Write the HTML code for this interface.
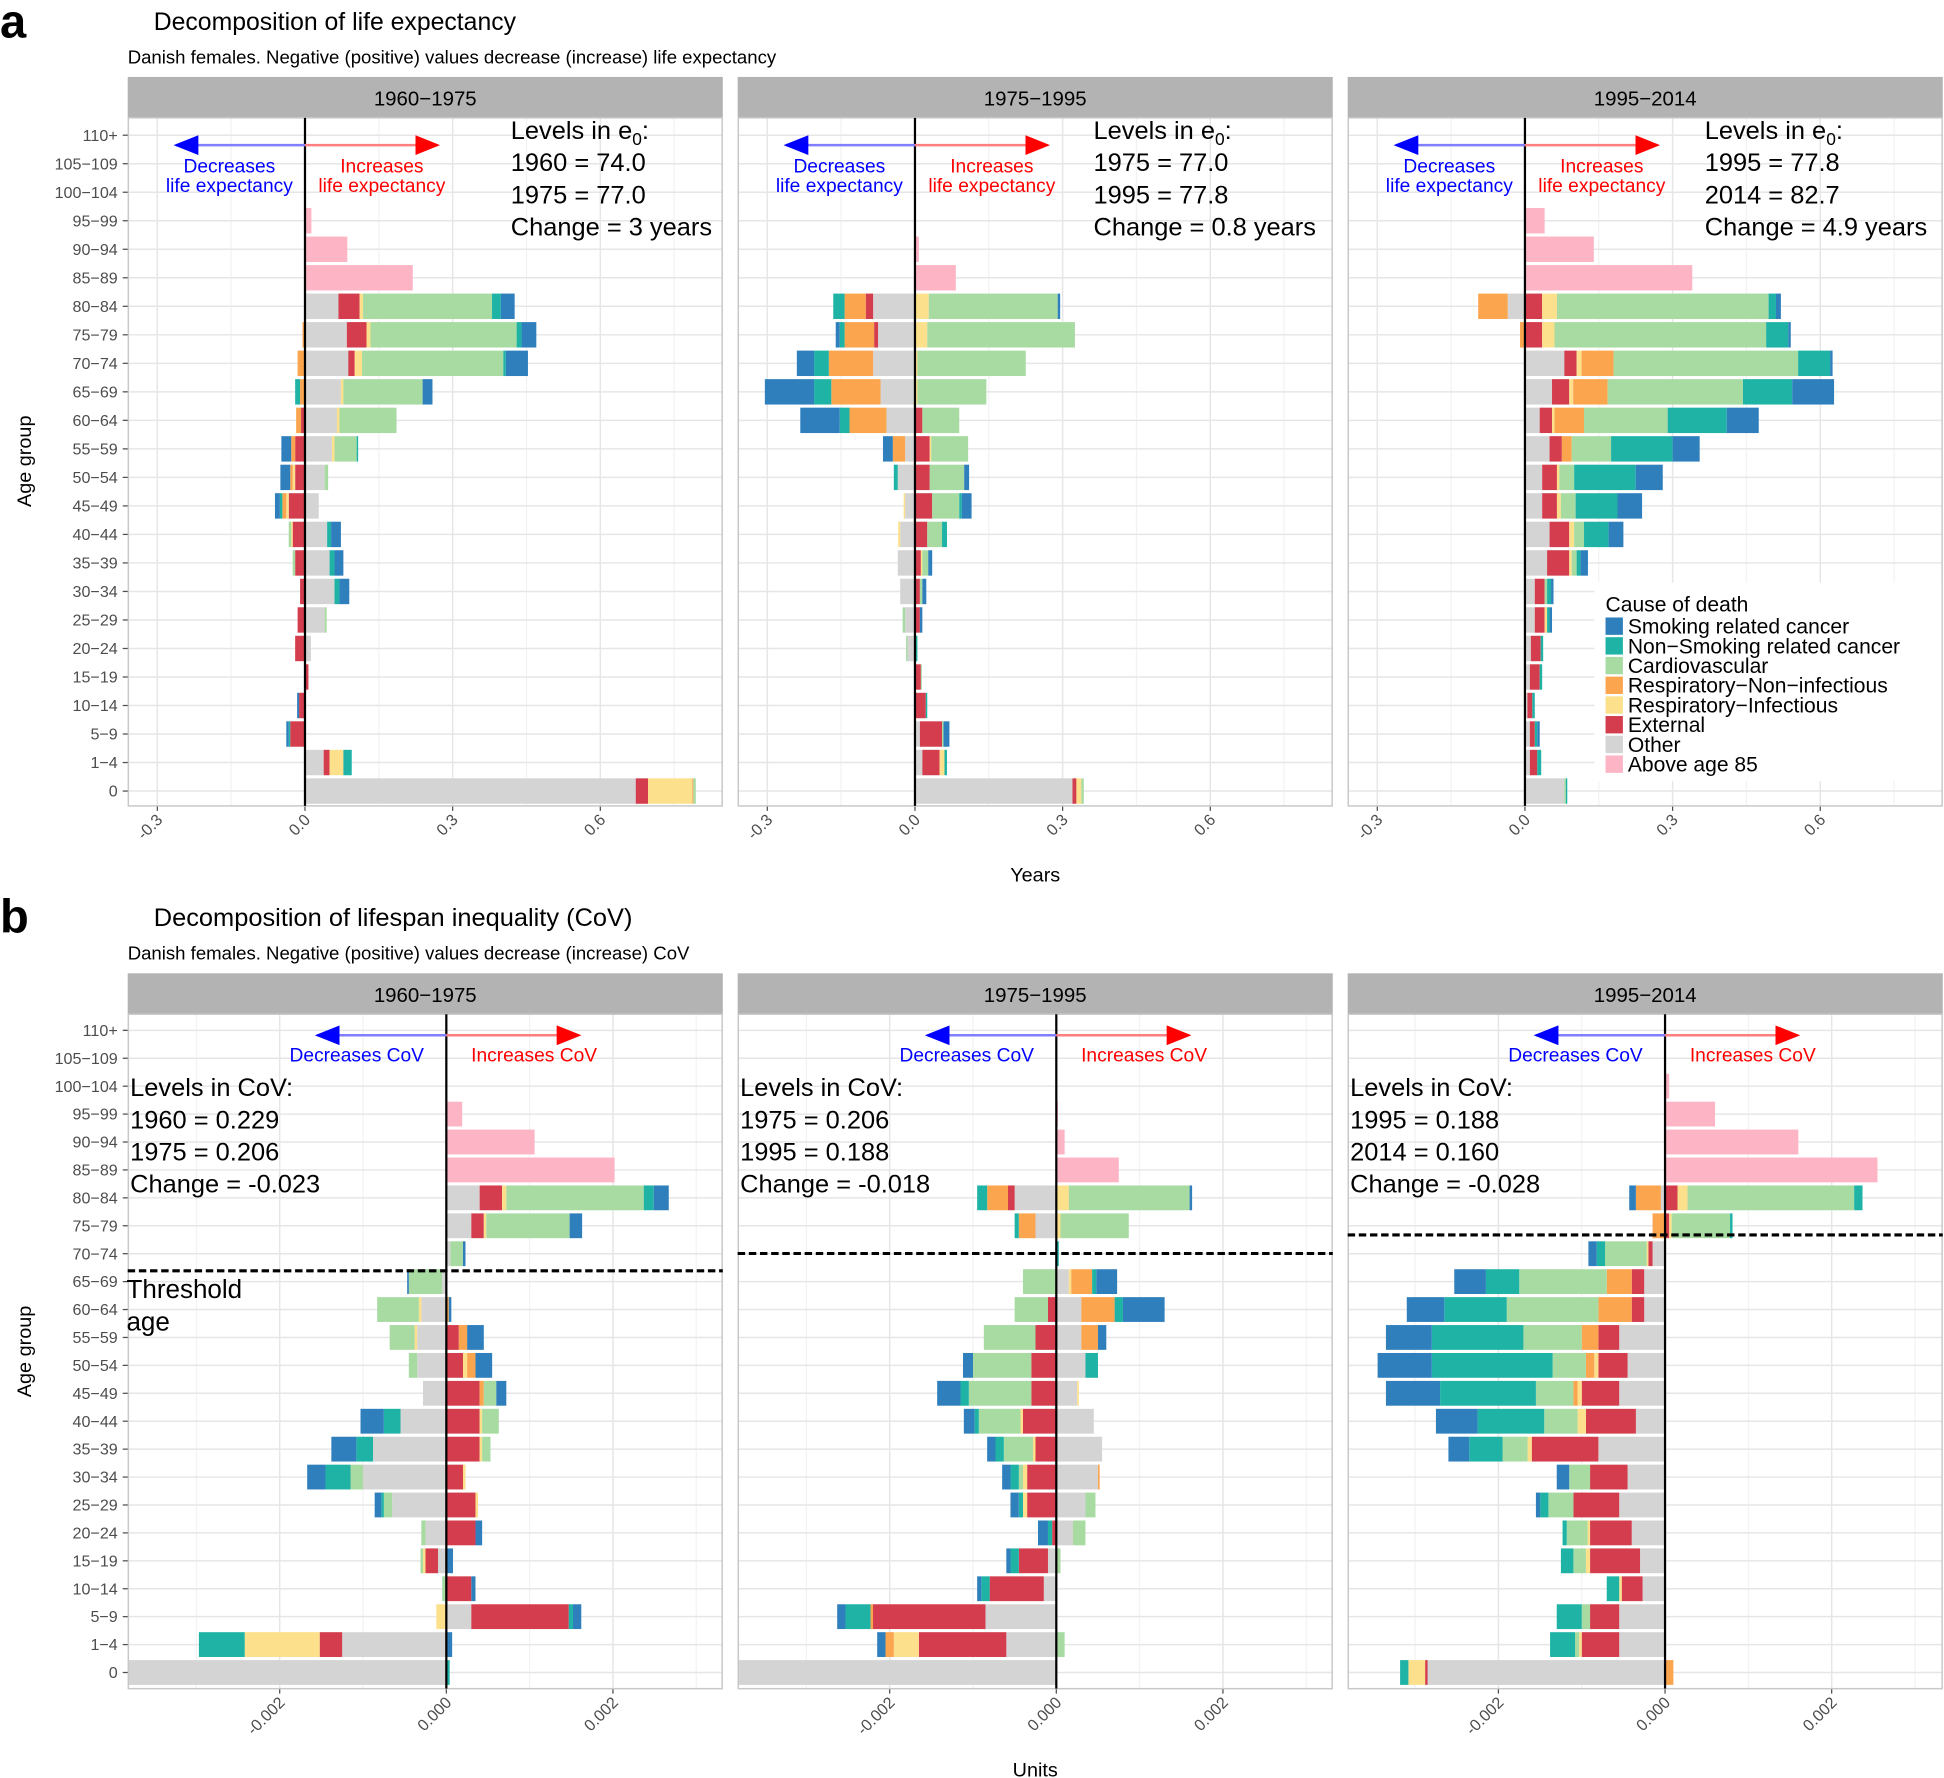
<!DOCTYPE html>
<html><head><meta charset="utf-8"><style>
html,body{margin:0;padding:0;background:#fff;}
svg{display:block;font-family:"Liberation Sans","DejaVu Sans",sans-serif;}
</style></head><body>
<svg id="fig" xmlns="http://www.w3.org/2000/svg" width="1944" height="1778" viewBox="0 0 1568 1434">
<defs>
<marker id="arB" markerWidth="10" markerHeight="8" refX="9" refY="4" orient="auto"><path d="M0,0 L10,4 L0,8 Z" fill="#0000ff"/></marker>
<marker id="arR" markerWidth="10" markerHeight="8" refX="9" refY="4" orient="auto"><path d="M0,0 L10,4 L0,8 Z" fill="#ff0000"/></marker>
</defs>
<text x="0" y="30" font-size="38" font-weight="bold">a</text>
<text x="124" y="24" font-size="20">Decomposition of life expectancy</text>
<text x="103" y="51" font-size="15">Danish females. Negative (positive) values decrease (increase) life expectancy</text>
<text x="0" y="752" font-size="38" font-weight="bold">b</text>
<text x="124" y="747" font-size="20.5">Decomposition of lifespan inequality (CoV)</text>
<text x="103" y="774" font-size="15">Danish females. Negative (positive) values decrease (increase) CoV</text>
<text x="835" y="711" font-size="16" text-anchor="middle">Years</text>
<text x="835" y="1433" font-size="16" text-anchor="middle">Units</text>
<text transform="translate(25,372) rotate(-90)" font-size="16" text-anchor="middle">Age group</text>
<text transform="translate(25,1090) rotate(-90)" font-size="16" text-anchor="middle">Age group</text>
<g id="panels"></g>
<g id="legend"></g>
</svg>
<script>
const ages=["110+","105\u2212109","100\u2212104","95\u221299","90\u221294","85\u221289","80\u221284","75\u221279","70\u221274","65\u221269","60\u221264","55\u221259","50\u221254","45\u221249","40\u221244","35\u221239","30\u221234","25\u221229","20\u221224","15\u221219","10\u221214","5\u22129","1\u22124","0"];
const causeNames=["Smoking related cancer","Non\u2212Smoking related cancer","Cardiovascular","Respiratory\u2212Non\u2212infectious","Respiratory\u2212Infectious","External","Other","Above age 85"];
const periods=["1960\u22121975","1975\u22121995","1995\u22122014"];
const ticksA=[-0.3,0,0.3,0.6];
const tickLabelsA=["-0.3","0.0","0.3","0.6"];
const ticksB=[-2,0,2]; // thousandths
const tickLabelsB=["-0.002","0.000","0.002"];
const levelsA=[["1960 = 74.0","1975 = 77.0","Change = 3 years"],["1975 = 77.0","1995 = 77.8","Change = 0.8 years"],["1995 = 77.8","2014 = 82.7","Change = 4.9 years"]];
const levelsB=[["1960 = 0.229","1975 = 0.206","Change = -0.023"],["1975 = 0.206","1995 = 0.188","Change = -0.018"],["1995 = 0.188","2014 = 0.160","Change = -0.028"]];
const thresholdY=[1025,1011,996];

const a1_smok=[0,0,0,0,0,0,.028,.03,.045,.02,0,-.02,-.02,-.01,.02,.018,.02,0,0,0,-.004,-.005,0,0];
const a1_nons=[0,0,0,0,0,0,.018,.01,.005,-.01,0,.003,0,-.005,.008,.01,.01,0,0,0,0,-.003,.017,0];
const a1_card=[0,0,0,0,0,0,.262,.297,.287,.161,.116,.045,.007,0,-.005,-.005,0,.004,0,0,0,0,0,.005];
const a1_resN=[0,0,0,0,0,0,0,-.005,-.015,-.01,-.01,-.008,-.005,-.008,0,0,0,0,0,0,0,0,0,.002];
const a1_resI=[0,0,0,0,0,0,.007,.008,.015,.005,.005,.005,-.005,-.005,-.003,0,0,0,0,0,0,0,.028,.09];
const a1_ext=[0,0,0,0,0,0,.043,.04,.013,0,-.008,-.02,-.02,-.033,-.025,-.02,-.01,-.015,-.02,.005,-.012,-.03,.012,.025];
const a1_oth=[0,0,0,0,0,0,.068,.085,.088,.073,.065,.055,.04,.028,.045,.05,.06,.04,.012,.002,.002,0,.038,.672];
const a1_a85=[0,0,0,.013,.086,.219,0,0,0,0,0,0,0,0,0,0,0,0,0,0,0,0,0,0];
const a2_smok=[0,0,0,0,0,0,.005,-.008,-.035,-.1,-.08,-.02,.01,.02,0,.008,.008,.005,0,0,0,.012,0,0];
const a2_nons=[0,0,0,0,0,0,-.023,-.01,-.03,-.035,-.02,0,-.008,.005,.01,0,0,0,.005,0,.003,0,.005,0];
const a2_card=[0,0,0,0,0,0,.262,.3,.22,.14,.075,.075,.07,.055,.03,.012,.005,-.005,-.003,.002,0,.003,0,.005];
const a2_resN=[0,0,0,0,0,0,-.043,-.06,-.09,-.1,-.075,-.025,0,0,0,0,0,0,0,0,0,0,0,0];
const a2_resI=[0,0,0,0,0,0,.028,.025,.005,.005,0,.003,0,-.003,-.004,.003,0,0,0,0,0,0,.01,.01];
const a2_ext=[0,0,0,0,0,0,-.015,-.008,0,0,.015,.03,.03,.035,.025,.012,.01,.01,0,.012,.022,.045,.035,.008];
const a2_oth=[0,0,0,0,0,0,-.085,-.075,-.085,-.07,-.058,-.02,-.035,-.02,-.03,-.035,-.03,-.02,-.015,0,0,.01,.015,.32];
const a2_a85=[0,0,0,0,.008,.083,0,0,0,0,0,0,0,0,0,0,0,0,0,0,0,0,0,0];
const a3_smok=[0,0,0,0,0,0,.01,.005,.005,.085,.065,.055,.055,.05,.03,.015,.005,.005,0,0,0,.005,0,0];
const a3_nons=[0,0,0,0,0,0,.015,.045,.065,.1,.12,.125,.125,.085,.05,.008,.008,.005,.005,.005,.005,.005,.008,.003];
const a3_card=[0,0,0,0,0,0,.43,.43,.375,.275,.17,.08,.03,.03,.02,.01,.005,0,0,0,0,0,0,.003];
const a3_resN=[0,0,0,0,0,0,-.06,-.01,.065,.07,.06,.02,0,0,0,0,0,0,0,0,0,0,0,0];
const a3_resI=[0,0,0,0,0,0,.03,.025,.01,.008,.005,0,.005,.008,.01,.005,0,.005,0,0,0,0,0,0];
const a3_ext=[0,0,0,0,0,0,.035,.035,.025,.035,.025,.025,.03,.03,.04,.045,.02,.02,.02,.02,.01,.01,.015,0];
const a3_oth=[0,0,0,0,0,0,-.035,0,.08,.055,.03,.05,.035,.035,.05,.045,.02,.02,.012,.01,.005,.01,.01,.08];
const a3_a85=[0,0,0,.04,.14,.34,0,0,0,0,0,0,0,0,0,0,0,0,0,0,0,0,0,0];
const b1_smok=[0,0,0,0,0,0,.18,.15,.03,-.02,.03,.2,.2,.12,-.28,-.3,-.22,-.08,.08,.08,.05,.1,.07,0];
const b1_nons=[0,0,0,0,0,0,.12,0,0,0,0,0,0,0,-.2,-.2,-.3,-.03,0,0,0,.05,-.55,.04];
const b1_card=[0,0,0,0,0,0,1.65,1.0,.15,-.4,-.5,-.3,-.1,.15,.2,.1,-.15,-.1,-.05,-.03,-.05,0,0,0];
const b1_resN=[0,0,0,0,0,0,0,0,0,0,.03,.1,.1,.05,0,0,0,0,0,0,0,0,0,0];
const b1_resI=[0,0,0,0,0,0,.05,.03,0,0,-.03,-.03,.05,0,.03,.03,.03,.03,0,-.03,0,-.12,-.9,0];
const b1_ext=[0,0,0,0,0,0,.27,.15,0,0,0,.15,.2,.4,.4,.4,.2,.35,.35,-.15,.3,1.17,-.27,0];
const b1_oth=[0,0,0,0,0,0,.4,.3,.05,-.05,-.3,-.35,-.35,-.28,-.55,-.88,-1.0,-.65,-.25,-.1,0,.3,-1.25,-3.9];
const b1_a85=[0,0,0,.19,1.06,2.02,0,0,0,0,0,0,0,0,0,0,0,0,0,0,0,0,0,0];
const b2_smok=[0,0,0,0,0,0,.03,0,0,.25,.5,.1,-.12,-.28,-.13,-.1,-.1,-.1,-.12,-.05,-.05,-.1,-.1,0];
const b2_nons=[0,0,0,0,0,0,-.12,-.05,.03,.05,.1,0,.15,-.1,-.05,-.1,-.1,-.05,-.05,-.1,-.1,-.3,0,0];
const b2_card=[0,0,0,0,0,0,1.45,.82,0,-.4,-.4,-.62,-.7,-.75,-.5,-.35,-.05,.12,.15,.05,0,0,.1,0];
const b2_resN=[0,0,0,0,0,0,-.25,-.2,0,.25,.4,.2,0,0,0,0,.02,0,0,0,0,-.03,-.1,0];
const b2_resI=[0,0,0,0,0,0,.15,.05,0,.03,0,0,0,.02,-.03,-.03,-.05,-.05,0,0,0,0,-.3,0];
const b2_ext=[0,0,0,0,0,0,-.08,0,0,0,-.1,-.25,-.3,-.3,-.4,-.25,-.35,-.35,-.05,-.35,-.65,-1.35,-1.05,0];
const b2_oth=[0,0,0,0,0,0,-.5,-.25,0,.15,.3,.3,.35,.25,.45,.55,.5,.35,.2,-.1,-.15,-.85,-.6,-3.9];
const b2_a85=[0,0,0,.02,.1,.75,0,0,0,0,0,0,0,0,0,0,0,0,0,0,0,0,0,0];
const b3_smok=[0,0,0,0,0,0,-.08,0,-.1,-.38,-.45,-.55,-.65,-.65,-.5,-.25,-.15,-.05,0,0,0,0,0,0];
const b3_nons=[0,0,0,0,0,0,.1,.03,-.1,-.4,-.75,-1.1,-1.45,-1.15,-.8,-.4,0,-.1,-.05,-.15,-.15,-.3,-.3,-.1];
const b3_card=[0,0,0,0,0,0,2.0,.7,-.5,-1.05,-1.1,-.7,-.4,-.45,-.4,-.3,-.25,-.3,-.25,-.15,0,-.1,-.05,0];
const b3_resN=[0,0,0,0,0,0,-.3,-.15,0,-.3,-.4,-.2,-.1,-.05,0,0,0,0,0,0,0,0,0,.1];
const b3_resI=[0,0,0,0,0,0,.12,.03,-.02,0,0,0,-.05,-.05,-.1,-.05,0,0,-.03,-.05,-.03,0,-.03,-.2];
const b3_ext=[0,0,0,0,0,0,.15,.05,-.05,-.15,-.15,-.25,-.35,-.45,-.6,-.8,-.45,-.55,-.5,-.6,-.25,-.35,-.45,-.03];
const b3_oth=[0,0,0,0,0,0,-.05,0,-.15,-.25,-.25,-.55,-.45,-.55,-.35,-.8,-.45,-.55,-.4,-.3,-.27,-.55,-.55,-2.85];
const b3_a85=[0,0,.05,.6,1.6,2.55,0,0,0,0,0,0,0,0,0,0,0,0,0,0,0,0,0,0];

const colors={smok:"#2f7fbd",nons:"#1fb3a6",card:"#a7dba2",resN:"#fca54f",resI:"#fde08c",ext:"#d33d4d",oth:"#d4d4d4",a85:"#fdb5c5"};
const stackOrder=["oth","ext","resI","resN","card","nons","smok"];
const legendOrder=["smok","nons","card","resN","resI","ext","oth","a85"];

const NS="http://www.w3.org/2000/svg";
function el(tag,attrs,parent){const e=document.createElementNS(NS,tag);for(const k in attrs)e.setAttribute(k,attrs[k]);if(parent)parent.appendChild(e);return e;}
const root=document.getElementById("panels");
const panelX=[103,595,1087], panelW=480;
const levelsAX=[412,882,1375];

function buildPanel(p,kind,data){
  const isA=kind==="a";
  const left=panelX[p], right=left+panelW;
  const top=isA?95:818, bottom=isA?650:1362, stripTop=isA?62:785;
  const zero=isA?[246,738,1230][p]:[360,852,1343][p];
  const ppu=isA?397:67.2;
  const y0=isA?109:831, step=isA?23.0:22.52, bh=isA?20.5:20;
  const xs=v=>zero+v*ppu;
  const ys=i=>y0+i*step;
  const g=el("g",{},root);
  
  
  const strip=el("rect",{x:left,y:stripTop,width:panelW,height:top-stripTop,fill:"#b3b3b3"},g);
  
  
  const st=el("text",{x:left+panelW/2,y:stripTop+23,"font-size":16.5,"text-anchor":"middle"},g);
  st.textContent=periods[p];
  
  
  el("rect",{x:left,y:top,width:panelW,height:bottom-top,fill:"#fff"},g);
  const ticks=isA?ticksA:ticksB, tl=isA?tickLabelsA:tickLabelsB;
  const minor=isA?[-0.15,0.15,0.45,0.75]:[-3,-1,1,3];
  minor.forEach(v=>{const x=xs(v);if(x>left&&x<right)el("line",{x1:x,x2:x,y1:top,y2:bottom,stroke:"#f2f2f2","stroke-width":1},g);});
  ages.forEach((a,i)=>{el("line",{x1:left,x2:right,y1:ys(i),y2:ys(i),stroke:"#e6e6e6","stroke-width":1.2},g);});
  ticks.forEach((v,k)=>{const x=xs(v);el("line",{x1:x,x2:x,y1:top,y2:bottom,stroke:"#e6e6e6","stroke-width":1.2},g);
    el("line",{x1:x,x2:x,y1:bottom,y2:bottom+4,stroke:"#4d4d4d"},g);
    const t=el("text",{x:x+5,y:bottom+12,"font-size":13,fill:"#4d4d4d","text-anchor":"end",transform:`rotate(-45 ${x+5} ${bottom+12})`},g);
    t.textContent=tl[k];
    
    
  });
  const clipId="clip"+kind+p;
  const cp=el("clipPath",{id:clipId},g);el("rect",{x:left,y:top,width:panelW,height:bottom-top},cp);
  const bars=el("g",{"clip-path":`url(#${clipId})`},g);
  ages.forEach((a,i)=>{
    let pos=0,neg=0;
    const yy=ys(i)-bh/2;
    stackOrder.forEach(c=>{
      const v=data[c][i]; if(!v)return;
      let x1,x2;
      if(v>0){x1=xs(pos);x2=xs(pos+v);pos+=v;}else{x2=xs(neg);x1=xs(neg+v);neg+=v;}
      const r=el("rect",{x:x1,y:yy,width:x2-x1,height:bh,fill:colors[c]},bars);
      
      
    });
    const v=data.a85[i];
    if(v){const r=el("rect",{x:xs(0),y:yy,width:v*ppu,height:bh,fill:colors.a85},bars);
      
      }
  });
  el("rect",{x:left+0.5,y:top,width:panelW-1,height:bottom-top,fill:"none",stroke:"#c8c8c8","stroke-width":1.2},g);
  const zl=el("line",{x1:zero,x2:zero,y1:top,y2:bottom,stroke:"#000","stroke-width":1.8},g);
  
  
  if(p===0){ages.forEach((a,i)=>{const t=el("text",{x:left-8,y:ys(i)+4.5,"font-size":13,fill:"#4d4d4d","text-anchor":"end"},g);t.textContent=a;
    
    
    el("line",{x1:left-4,x2:left,y1:ys(i),y2:ys(i),stroke:"#4d4d4d"},g);});}
  const ay=isA?117:835;
  const la=zero-104, ra=zero+107;
  el("line",{x1:zero,x2:la,y1:ay,y2:ay,stroke:"#7f7fff","stroke-width":2,"marker-end":"url(#arB)"},g);
  el("line",{x1:zero,x2:ra,y1:ay,y2:ay,stroke:"#ff7f7f","stroke-width":2,"marker-end":"url(#arR)"},g);
  if(isA){
    const t1=el("text",{x:zero-61,y:139,"font-size":15.5,fill:"#0000ff","text-anchor":"middle"},g);t1.textContent="Decreases";
    const t2=el("text",{x:zero-61,y:155,"font-size":15.5,fill:"#0000ff","text-anchor":"middle"},g);t2.textContent="life expectancy";
    const t3=el("text",{x:zero+62,y:139,"font-size":15.5,fill:"#ff0000","text-anchor":"middle"},g);t3.textContent="Increases";
    const t4=el("text",{x:zero+62,y:155,"font-size":15.5,fill:"#ff0000","text-anchor":"middle"},g);t4.textContent="life expectancy";
    const lx=levelsAX[p];
    const h=el("text",{x:lx,y:112,"font-size":20.5},g);h.innerHTML='Levels in e<tspan font-size="14" dy="5">0</tspan><tspan dy="-5">:</tspan>';
    
    
    levelsA[p].forEach((s,k)=>{const t=el("text",{x:lx,y:138+k*26,"font-size":20.5},g);t.textContent=s;
      
      });
  } else {
    const t1=el("text",{x:zero-18,y:856,"font-size":15.5,fill:"#0000ff","text-anchor":"end"},g);t1.textContent="Decreases  CoV";
    const t3=el("text",{x:zero+20,y:856,"font-size":15.5,fill:"#ff0000"},g);t3.textContent="Increases CoV";
    const lx=left+2;
    const h=el("text",{x:lx,y:884,"font-size":20.5},g);h.textContent="Levels in CoV:";
    
    
    levelsB[p].forEach((s,k)=>{const t=el("text",{x:lx,y:910+k*26,"font-size":20.5},g);t.textContent=s;
      
      });
    const ty=thresholdY[p];
    const th=el("line",{x1:left,x2:right,y1:ty,y2:ty,stroke:"#000","stroke-width":2.5,"stroke-dasharray":"6,3"},g);
    
    
    if(p===0){const a=el("text",{x:left-1,y:1047,"font-size":21},g);a.textContent="Threshold";
      const b=el("text",{x:left-1,y:1073,"font-size":21},g);b.textContent="age";}
  }
}
const A=[{smok:a1_smok,nons:a1_nons,card:a1_card,resN:a1_resN,resI:a1_resI,ext:a1_ext,oth:a1_oth,a85:a1_a85},
{smok:a2_smok,nons:a2_nons,card:a2_card,resN:a2_resN,resI:a2_resI,ext:a2_ext,oth:a2_oth,a85:a2_a85},
{smok:a3_smok,nons:a3_nons,card:a3_card,resN:a3_resN,resI:a3_resI,ext:a3_ext,oth:a3_oth,a85:a3_a85}];
const B=[{smok:b1_smok,nons:b1_nons,card:b1_card,resN:b1_resN,resI:b1_resI,ext:b1_ext,oth:b1_oth,a85:b1_a85},
{smok:b2_smok,nons:b2_nons,card:b2_card,resN:b2_resN,resI:b2_resI,ext:b2_ext,oth:b2_oth,a85:b2_a85},
{smok:b3_smok,nons:b3_nons,card:b3_card,resN:b3_resN,resI:b3_resI,ext:b3_ext,oth:b3_oth,a85:b3_a85}];
for(let p=0;p<3;p++){buildPanel(p,"a",A[p]);buildPanel(p,"b",B[p]);}
const lg=document.getElementById("legend");
el("rect",{x:1286,y:470,width:280,height:160,fill:"#fff"},lg);
const lt=el("text",{x:1295,y:493,"font-size":17},lg);lt.textContent="Cause of death";


legendOrder.forEach((c,k)=>{
  const y=498+k*15.9;
  const g=el("g",{},lg);
  
  
  el("rect",{x:1295,y:y,width:14,height:14,fill:colors[c]},g);
  const t=el("text",{x:1313,y:y+13,"font-size":17},g);t.textContent=causeNames[k];
});
</script>
</body></html>
